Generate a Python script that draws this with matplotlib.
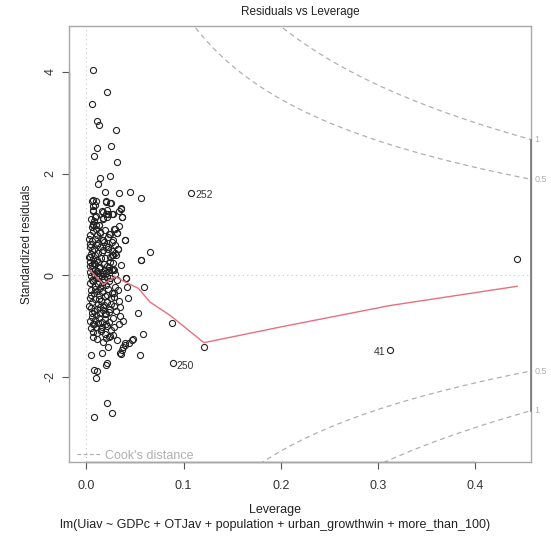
import numpy as np
import matplotlib
matplotlib.use("Agg")
import matplotlib.pyplot as plt
from matplotlib.lines import Line2D

plt.rcParams['font.family'] = ['Liberation Sans', 'DejaVu Sans']

# leverage / standardized residual pairs
lev = [
    0.0072, 0.021, 0.0055, 0.0113, 0.0134, 0.031, 0.0113, 0.025, 0.0079, 0.032,
    0.014, 0.012, 0.0244, 0.0196, 0.0333, 0.0446, 0.056, 0.0059, 0.010, 0.0203,
    0.025, 0.0072, 0.0354, 0.034, 0.0072, 0.0175, 0.0227, 0.026, 0.009, 0.021,
    0.0367, 0.0175, 0.010, 0.0134, 0.0066, 0.034, 0.0295, 0.0244, 0.032, 0.040,
    0.066, 0.0566, 0.026, 0.033, 0.0295, 0.0237, 0.026, 0.041,
    0.0066, 0.009, 0.0203, 0.0244, 0.0066, 0.0158, 0.0216, 0.0203, 0.0272, 0.0354,
    0.010, 0.0175, 0.0364, 0.0066, 0.0134, 0.0285, 0.0237, 0.0319, 0.0398, 0.0038,
    0.009, 0.0141, 0.0175, 0.0038, 0.0107, 0.0226, 0.0329, 0.0056, 0.0158, 0.0278,
    0.0563, 0.0038, 0.0107, 0.0192, 0.0244, 0.0056, 0.0141, 0.0278, 0.0038, 0.009,
    0.0175, 0.0237, 0.0285, 0.0408, 0.0295, 0.0416, 0.0594, 0.0056, 0.0123, 0.0158,
    0.026, 0.034, 0.0535, 0.058, 0.0347, 0.034, 0.0045, 0.0072, 0.0072, 0.0113,
    0.0169, 0.0203, 0.0237, 0.0278, 0.0226, 0.0313, 0.0398, 0.0442, 0.0477, 0.038,
    0.0364, 0.0045, 0.0158, 0.0347, 0.0552, 0.0216, 0.0203, 0.0079, 0.0107, 0.010,
    0.0216, 0.0079, 0.0268, 0.0354, 0.040, 0.0467,
    0.004, 0.006, 0.008, 0.012, 0.014, 0.005, 0.009, 0.012, 0.017, 0.020,
    0.004, 0.007, 0.009, 0.012, 0.015, 0.018, 0.021, 0.006, 0.011, 0.013,
    0.016, 0.019, 0.005, 0.008, 0.010, 0.013, 0.018, 0.021, 0.004, 0.007,
    0.009, 0.012, 0.014, 0.017, 0.020, 0.023, 0.005, 0.008, 0.011, 0.013,
    0.016, 0.019, 0.022, 0.004, 0.006, 0.009, 0.012, 0.015, 0.018, 0.021,
    0.025, 0.005, 0.008, 0.011, 0.014, 0.017, 0.020, 0.024, 0.028, 0.006,
    0.009, 0.013, 0.016, 0.019, 0.023, 0.027, 0.010, 0.015, 0.021, 0.025,
    0.007, 0.011, 0.016, 0.019, 0.022, 0.027, 0.030, 0.026, 0.024, 0.027,
    0.030, 0.032, 0.028, 0.031, 0.029, 0.003, 0.003, 0.003, 0.005, 0.008,
    0.006, 0.010, 0.014, 0.018, 0.022, 0.026, 0.004, 0.008, 0.012, 0.016,
    0.020, 0.024, 0.005, 0.009, 0.013, 0.017, 0.021, 0.025, 0.006, 0.010,
    0.014, 0.019, 0.023, 0.004, 0.008, 0.012, 0.016, 0.020, 0.007, 0.011,
    0.015, 0.019, 0.024, 0.029, 0.033, 0.036, 0.031, 0.035, 0.038, 0.043,
    0.108, 0.0885, 0.121, 0.089, 0.312, 0.443,
]
resid = [
    4.04, 3.61, 3.36, 3.04, 2.96, 2.85, 2.51, 2.55, 2.34, 2.22,
    1.91, 1.79, 1.95, 1.64, 1.62, 1.64, 1.52, 1.46, 1.46, 1.44,
    1.42, 1.36, 1.31, 1.27, 1.27, 1.25, 1.21, 1.20, 1.15, 1.14,
    1.14, 1.10, 0.98, 0.98, 0.98, 0.97, 0.91, 0.81, 0.82, 0.70,
    0.46, 0.30, 0.66, 0.51, 0.43, 0.16, 0.10, -0.05,
    1.48, 1.38, 1.46, 1.42, 1.28, 1.27, 1.28, 1.21, 1.20, 1.33,
    1.16, 1.12, 1.14, 1.00, 0.98, 0.90, 0.81, 0.82, 0.70, 0.79,
    0.72, 0.82, 0.69, 0.62, 0.59, 0.56, 0.51, 0.49, 0.46, 0.39,
    0.30, 0.36, 0.30, 0.33, 0.26, 0.20, 0.16, 0.13, 0.06, 0.10,
    0.03, 0.10, 0.11, -0.06, -0.23, -0.23, -0.23, -0.10, -0.03, -0.20,
    -0.36, -0.51, -0.75, -1.15, -0.80, -0.97, -1.05, -0.97, -1.21, -1.25,
    -1.32, -1.23, -1.21, -1.17, -1.41, -1.28, -1.34, -1.34, -1.26, -1.41,
    -1.48, -1.57, -1.54, -1.54, -1.57, -1.74, -1.76, -1.87, -1.89, -2.03,
    -2.51, -2.80, -2.71, -1.56, -1.38, -1.27,
    0.55, 0.68, 0.52, 0.64, 0.55, 0.42, 0.40, 0.44, 0.50, 0.58,
    0.26, 0.31, 0.22, 0.26, 0.34, 0.22, 0.18, 0.12, 0.08, 0.14,
    0.06, 0.10, -0.02, 0.02, -0.06, -0.01, -0.08, -0.04, -0.16, -0.12,
    -0.22, -0.18, -0.26, -0.14, -0.20, -0.12, -0.30, -0.36, -0.32, -0.40,
    -0.34, -0.42, -0.28, -0.46, -0.52, -0.48, -0.56, -0.50, -0.58, -0.52,
    -0.46, -0.64, -0.70, -0.66, -0.74, -0.68, -0.76, -0.66, -0.60, -0.82,
    -0.88, -0.84, -0.92, -0.86, -0.92, -0.84, -1.02, -1.06, -1.00, -1.08,
    0.86, 0.78, 0.70, 0.88, 0.76, 0.70, 0.60, 0.48, 0.36, 0.24,
    0.02, -0.10, -0.36, -0.70, -1.02, 0.36, -0.60, 0.72, 1.10, 1.06,
    0.94, 0.90, 0.84, 0.66, 0.52, 0.40, 0.18, 0.24, 0.04, -0.02,
    0.04, -0.06, -0.40, -0.28, -0.48, -0.62, -0.40, -0.56, -0.74, -0.78,
    -0.62, -0.76, -0.72, -0.90, -0.96, -0.94, -1.02, -0.96, -1.12, -1.14,
    -1.10, -1.16, -1.20, -0.44, -0.30, 0.20, 0.40, -0.62, -0.90, -0.46,
    1.62, -0.94, -1.41, -1.73, -1.48, 0.31,
]

# labelled observations
id_labels = ["252", "250", "41"]
id_lev = [0.108, 0.089, 0.312]
id_res = [1.62, -1.73, -1.48]

# red smoother
smooth_x = [0.003, 0.0175, 0.0295, 0.0415, 0.0535, 0.0655, 0.086, 0.121, 0.2, 0.312, 0.443]
smooth_y = [0.11, -0.18, -0.03, -0.15, -0.26, -0.53, -0.79, -1.33, -1.02, -0.60, -0.22]

n_par = 6
cook_levels = [0.5, 1]
xticks = [0.0, 0.1, 0.2, 0.3, 0.4]
yticks = [-2, 0, 2, 4]

fig = plt.figure(figsize=(5.51, 5.36), dpi=100)
ax = fig.add_axes([0.1252, 0.138, 0.838, 0.814])
xlim = (-0.0178, 0.457)
ylim = (-3.68, 4.91)

ax.axhline(0, color='#c8c8c8', lw=0.8, ls=(0, (1, 3)), zorder=1)
ax.axvline(0, color='#c8c8c8', lw=0.8, ls=(0, (1, 3)), zorder=1)

ax.plot(lev, resid, 'o', mfc='none', mec='#222222', mew=0.8, ms=4.4, zorder=3)
ax.plot(smooth_x, smooth_y, color='#e8707f', lw=1.0, zorder=4)

# Cook's distance contours
hh = np.linspace(0.001, xlim[1], 300)
for lv in cook_levels:
    r = np.sqrt(lv * n_par * (1 - hh) / hh)
    ax.plot(hh, r, color='#b0b0b0', lw=0.9, ls=(0, (4, 3)), zorder=2)
    ax.plot(hh, -r, color='#b0b0b0', lw=0.9, ls=(0, (4, 3)), zorder=2)

aty = [np.sqrt(lv * n_par * (1 - xlim[1]) / xlim[1]) for lv in cook_levels]
for lv, a in zip(cook_levels, aty):
    for s in (1, -1):
        ax.text(xlim[1] + 0.004, s * a, f"{lv:g}", color='#b0b0b0', fontsize=6.5,
                va='center', ha='left', clip_on=False)
ax.plot([xlim[1], xlim[1]], [-aty[-1], aty[-1]], color='#777777', lw=1.2,
        clip_on=False, zorder=5)

for t, x, y in zip(id_labels, id_lev, id_res):
    if x > 0.2:
        ax.text(x - 0.004, y - 0.03, t, fontsize=7.5, color='#333333', ha='right', va='center')
    else:
        ax.text(x + 0.004, y - 0.05, t, fontsize=7.5, color='#333333', ha='left', va='center')

ax.set_xlim(xlim)
ax.set_ylim(ylim)
ax.set_xticks(xticks)
ax.set_xticklabels([f"{v:.1f}" for v in xticks])
ax.set_yticks(yticks)
ax.set_yticklabels([str(v) for v in yticks], rotation=90, va='center')
ax.tick_params(axis='both', length=5, width=0.8, color='#555555', labelsize=9,
               labelcolor='#333333')
ax.tick_params(axis='x', pad=8)
ax.tick_params(axis='y', pad=4)
for sp in ax.spines.values():
    sp.set_color('#a8a8a8')
    sp.set_linewidth(1.0)
# axis lines spanning the ticks (R style)
ax.plot([xticks[0], xticks[-1]], [ylim[0], ylim[0]], color='#666666', lw=1.0, clip_on=False)
ax.plot([xlim[0], xlim[0]], [yticks[0], yticks[-1]], color='#666666', lw=1.0, clip_on=False)

ax.set_title("Residuals vs Leverage", fontsize=8.5, color='#222222', pad=8)
ax.set_ylabel("Standardized residuals", fontsize=8.5, color='#222222', labelpad=8)
fig.text(0.5, 1 - 510 / 536, "Leverage", ha='center', va='center', fontsize=9, color='#222222')
fig.text(0.5, 1 - 525 / 536, "lm(Uiav ~ GDPc + OTJav + population + urban_growthwin + more_than_100)",
         ha='center', va='center', fontsize=9, color='#222222')

handle = Line2D([0], [0], color='#b0b0b0', lw=0.9, ls=(0, (3, 2)))
ax.legend([handle], ["Cook's distance"], loc='lower left', frameon=False, fontsize=9,
          labelcolor='#b0b0b0', handlelength=1.8, handletextpad=0.4,
          bbox_to_anchor=(0.012, -0.005), borderaxespad=0.0, borderpad=0.2)

fig.savefig("out.png", dpi=100)
